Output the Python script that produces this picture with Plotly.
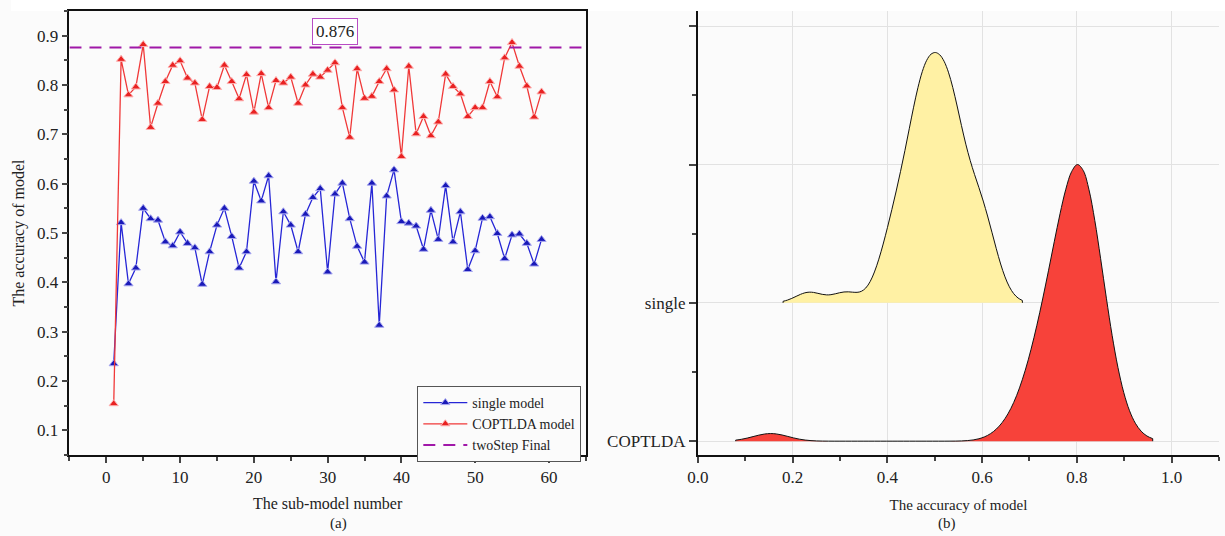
import plotly.graph_objects as go

# ---------------- data ----------------
sub_model = list(range(1, 60))
single_acc = [0.235, 0.521, 0.397, 0.429, 0.550, 0.529, 0.526, 0.482, 0.474, 0.502,
              0.479, 0.470, 0.396, 0.462, 0.516, 0.550, 0.493, 0.429, 0.462, 0.605,
              0.565, 0.616, 0.401, 0.543, 0.516, 0.462, 0.538, 0.572, 0.590, 0.421,
              0.579, 0.601, 0.529, 0.473, 0.441, 0.601, 0.313, 0.575, 0.628, 0.523,
              0.520, 0.514, 0.467, 0.546, 0.487, 0.596, 0.482, 0.543, 0.426, 0.464,
              0.530, 0.533, 0.499, 0.448, 0.496, 0.498, 0.479, 0.437, 0.487]
coptlda_acc = [0.154, 0.852, 0.780, 0.796, 0.882, 0.714, 0.763, 0.807, 0.840, 0.849,
               0.814, 0.804, 0.730, 0.797, 0.795, 0.840, 0.807, 0.772, 0.821, 0.745,
               0.823, 0.754, 0.809, 0.804, 0.816, 0.763, 0.800, 0.822, 0.816, 0.830,
               0.845, 0.754, 0.694, 0.833, 0.773, 0.777, 0.807, 0.833, 0.790, 0.655,
               0.838, 0.701, 0.736, 0.697, 0.725, 0.822, 0.797, 0.782, 0.736, 0.754,
               0.754, 0.807, 0.776, 0.855, 0.886, 0.838, 0.798, 0.735, 0.786]
twostep_final = 0.876
ridge_labels = ["COPTLDA", "single"]
ridge_pos = [1, 2]

FONT = "Liberation Serif"
x_left_range = [-5, 65]

fig = go.Figure()

# ---------------- left panel ----------------
fig.add_trace(go.Scatter(
    x=sub_model, y=single_acc, mode="lines+markers", name="single model",
    line=dict(color="#2626d6", width=1.3),
    marker=dict(symbol="triangle-up", size=8, color="#1a1ab8",
                line=dict(color="#a8a8f0", width=1)),
    xaxis="x", yaxis="y"))
fig.add_trace(go.Scatter(
    x=sub_model, y=coptlda_acc, mode="lines+markers", name="COPTLDA model",
    line=dict(color="#f03838", width=1.3),
    marker=dict(symbol="triangle-up", size=8, color="#e82222",
                line=dict(color="#ffb0b0", width=1)),
    xaxis="x", yaxis="y"))
fig.add_trace(go.Scatter(
    x=x_left_range, y=[twostep_final, twostep_final], mode="lines",
    name="twoStep Final",
    line=dict(color="#a018a8", width=2.2, dash="12px,8px"),
    xaxis="x", yaxis="y"))

# ---------------- right panel (ridgeline densities) ----------------
fig.add_trace(go.Violin(
    x=coptlda_acc, y0=ridge_pos[0], orientation="h", side="positive",
    width=4.0, bandwidth=0.037, spanmode="manual", span=[0.08, 0.96],
    fillcolor="#f7423a", line=dict(color="#111111", width=1),
    points=False, box_visible=False, meanline_visible=False,
    showlegend=False, opacity=1, xaxis="x2", yaxis="y2", hoveron="violins"))
fig.add_trace(go.Violin(
    x=single_acc, y0=ridge_pos[1], orientation="h", side="positive",
    width=3.62, bandwidth=0.028, spanmode="manual", span=[0.18, 0.685],
    fillcolor="#fff1a4", line=dict(color="#111111", width=1),
    points=False, box_visible=False, meanline_visible=False,
    showlegend=False, opacity=1, xaxis="x2", yaxis="y2", hoveron="violins"))

W, H = 1225, 536
def px(v):
    return v / W
def py(v):
    return 1 - v / H

tickfont = dict(family=FONT, size=17, color="#222")
titlefont_a = dict(family=FONT, size=16, color="#222")
titlefont_b = dict(family=FONT, size=15, color="#222")

fig.update_layout(
    width=W, height=H,
    margin=dict(l=0, r=0, t=0, b=0),
    paper_bgcolor="#fbfbfb", plot_bgcolor="#fbfbfb",
    font=dict(family=FONT, size=15, color="#222"),
    showlegend=True,
    legend=dict(x=px(410), y=py(386), xanchor="left", yanchor="top",
                bgcolor="#fbfbfb", bordercolor="#555", borderwidth=1,
                font=dict(family=FONT, size=14, color="#222"),
                tracegroupgap=0, itemwidth=44),
    xaxis=dict(domain=[px(59), px(580)], range=x_left_range, anchor="y",
               dtick=10, tick0=0, ticks="outside", ticklen=6, tickwidth=1.5,
               minor=dict(dtick=5, ticks="outside", ticklen=4, tickwidth=1.5),
               showline=True, linecolor="#111", linewidth=1.8, mirror=True,
               showgrid=False, zeroline=False, tickfont=tickfont,
               title=dict(text="The sub-model number", font=titlefont_a,
                          standoff=12)),
    yaxis=dict(domain=[py(455), py(11)], range=[0.05, 0.95], anchor="x",
               dtick=0.1, tick0=0.1, tickformat=".1f",
               ticks="outside", ticklen=6, tickwidth=1.5,
               minor=dict(dtick=0.05, tick0=0.05, ticks="outside", ticklen=4, tickwidth=1.5),
               showline=True, linecolor="#111", linewidth=1.8, mirror=True,
               showgrid=False, zeroline=False, tickfont=tickfont,
               title=dict(text="The accuracy of model", font=titlefont_a, standoff=8)),
    xaxis2=dict(domain=[px(693), px(1219)], range=[0, 1.1], anchor="y2",
                dtick=0.2, tick0=0, tickformat=".1f",
                ticks="outside", ticklen=6, tickwidth=1.5,
                minor=dict(dtick=0.1, ticks="outside", ticklen=4, tickwidth=1.5),
                showline=True, linecolor="#111", linewidth=1.8,
                showgrid=True, gridcolor="#e2e2e2", gridwidth=1,
                zeroline=False, tickfont=tickfont,
                title=dict(text="The accuracy of model", font=titlefont_b,
                           standoff=13)),
    yaxis2=dict(domain=[py(455), py(11)], range=[0.9, 4.11], anchor="x2",
                tickvals=[1, 2, 3, 4], ticktext=ridge_labels + ["", ""],
                ticks="outside", ticklen=7, tickwidth=1.5,
                minor=dict(dtick=0.5, tick0=0.5, ticks="outside", ticklen=4, tickwidth=1.5),
                showline=True, linecolor="#111", linewidth=1.8,
                showgrid=True, gridcolor="#e2e2e2", gridwidth=1,
                zeroline=False, tickfont=tickfont),
    annotations=[
        dict(x=31, y=0.908, xref="x", yref="y",
             text=f"{twostep_final:.3f}", showarrow=False,
             font=dict(family=FONT, size=17, color="#222"),
             bordercolor="#b84cc4", borderwidth=1, borderpad=3,
             bgcolor="#ffffff"),
        dict(x=(px(59) + px(580)) / 2, y=py(523), xref="paper", yref="paper",
             yanchor="middle", text="(a)", showarrow=False, font=titlefont_b),
        dict(x=(px(693) + px(1219)) / 2, y=py(523), xref="paper", yref="paper",
             yanchor="middle", text="(b)", showarrow=False, font=titlefont_b),
    ],
    shapes=[dict(type="rect", xref="paper", yref="paper", x0=0, x1=1,
                 y0=py(11), y1=1, fillcolor="#ffffff", line=dict(width=0),
                 layer="below")],
)

fig.write_html("out.html")
